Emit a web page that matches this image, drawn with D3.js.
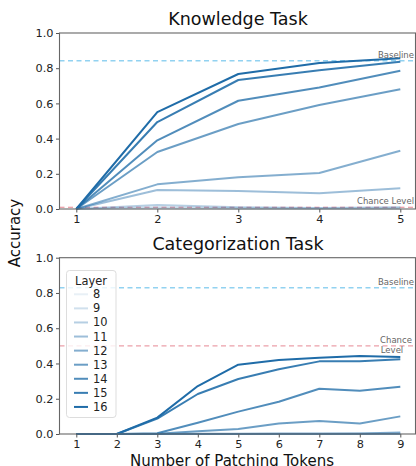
<!DOCTYPE html>
<html><head><meta charset="utf-8">
<script src="https://cdn.jsdelivr.net/npm/d3@7"></script>
<style>body{margin:0;background:#fff}svg{display:block}text{font-family:"DejaVu Sans",sans-serif}</style>
</head><body>
<svg id="c" width="416" height="466"></svg>
<script>
const layers = [8, 9, 10, 11, 12, 13, 14, 15, 16];
const knowledgeX = [1, 2, 3, 4, 5];
const knowledgeY = {
  8:  [0, 0.003, 0.0, 0.0, 0.0],
  9:  [0, 0.008, 0.004, 0.003, 0.004],
  10: [0, 0.023, 0.01, 0.005, 0.01],
  11: [0, 0.108, 0.102, 0.089, 0.118],
  12: [0, 0.14, 0.18, 0.205, 0.331],
  13: [0, 0.324, 0.483, 0.591, 0.68],
  14: [0, 0.39, 0.615, 0.69, 0.786],
  15: [0, 0.494, 0.733, 0.788, 0.837],
  16: [0, 0.55, 0.767, 0.83, 0.856]
};
const categX = [1, 2, 3, 4, 5, 6, 7, 8, 9];
const categY = {
  8:  [0, 0, 0, 0, 0, 0, 0, 0, 0],
  9:  [0, 0, 0, 0, 0, 0, 0, 0, 0],
  10: [0, 0, 0, 0, 0, 0, 0, 0, 0],
  11: [0, 0, 0, 0, 0, 0, 0, 0.001, 0.002],
  12: [0, 0, 0, 0.001, 0.002, 0.003, 0.003, 0.003, 0.008],
  13: [0, 0, 0.002, 0.015, 0.028, 0.06, 0.074, 0.06, 0.1],
  14: [0, 0, 0.004, 0.064, 0.127, 0.183, 0.257, 0.246, 0.268],
  15: [0, 0, 0.087, 0.227, 0.312, 0.367, 0.412, 0.413, 0.424],
  16: [0, 0, 0.093, 0.272, 0.393, 0.42, 0.433, 0.442, 0.437]
};
const yTicks = [0, 0.2, 0.4, 0.6, 0.8, 1.0];
const knowledgeBaseline = 0.843, knowledgeChance = 0.01;
const categBaseline = 0.83, categChance = 0.5;

const svg = d3.select("#c");
const lineColor = "#1f6ca8";
const opac = d3.scaleLinear().domain([8, 16]).range([0.1, 1]);

function panel(cfg) {
  const x = d3.scaleLinear().domain(cfg.xdom).range([76.3, 400.3]);
  const y = d3.scaleLinear().domain([0, 1]).range([cfg.bottom, cfg.top]);
  const g = svg.append("g");
  g.append("text").attr("x", 238).attr("y", cfg.top - 8).attr("text-anchor", "middle")
    .attr("font-size", 17.5).attr("fill", "#111").text(cfg.title);
  const left = 59.5, right = 415.5;
  g.append("line").attr("x1", left).attr("x2", right).attr("y1", y(cfg.baseline)).attr("y2", y(cfg.baseline))
    .attr("stroke", "#87cef0").attr("stroke-width", 1.5).attr("stroke-dasharray", "5,3.5").attr("opacity", 0.9);
  g.append("line").attr("x1", left).attr("x2", right).attr("y1", y(cfg.chance)).attr("y2", y(cfg.chance))
    .attr("stroke", "#e57a85").attr("stroke-width", 1.2).attr("stroke-dasharray", "5,3.5").attr("opacity", cfg.chanceOp);
  const line = d3.line().x((d, i) => x(cfg.xs[i])).y(d => y(d));
  layers.forEach(L => {
    g.append("path").datum(cfg.data[L]).attr("d", line).attr("fill", "none")
      .attr("stroke", lineColor).attr("stroke-opacity", opac(L)).attr("stroke-width", 2)
      .attr("stroke-linejoin", "round");
  });
  g.append("text").attr("x", 414).attr("y", y(cfg.baseline) - 3).attr("text-anchor", "end")
    .attr("font-size", 8.5).attr("fill", "#666").text("Baseline");
  cfg.chanceLabel(g, y);
  const ax = g.append("g").attr("transform", `translate(0,${cfg.bottom})`)
    .call(d3.axisBottom(x).tickValues(cfg.xs).tickFormat(d3.format("d")).tickSize(3.5).tickPadding(2.5));
  const ay = g.append("g").attr("transform", `translate(${left},0)`)
    .call(d3.axisLeft(y).tickValues(yTicks).tickFormat(d3.format(".1f")).tickSize(3.5).tickPadding(2.5));
  [ax, ay].forEach(a => {
    a.select(".domain").remove();
    a.selectAll("line").attr("stroke", "#555");
    a.selectAll("text").attr("font-size", 11.3).attr("fill", "#222").attr("font-family", "DejaVu Sans");
  });
  g.append("rect").attr("x", left).attr("y", cfg.top).attr("width", right - left).attr("height", cfg.bottom - cfg.top)
    .attr("fill", "none").attr("stroke", "#666").attr("stroke-width", 1.1);
  return {x, y, g};
}

panel({
  title: "Knowledge Task", xdom: [1, 5], xs: knowledgeX, data: knowledgeY,
  top: 33, bottom: 209, baseline: knowledgeBaseline, chance: knowledgeChance, chanceOp: 0.9,
  chanceLabel: (g, y) => g.append("text").attr("x", 414).attr("y", y(knowledgeChance) - 3.5)
    .attr("text-anchor", "end").attr("font-size", 8.5).attr("fill", "#666").text("Chance Level")
});
panel({
  title: "Categorization Task", xdom: [1, 9], xs: categX, data: categY,
  top: 257.7, bottom: 434, baseline: categBaseline, chance: categChance, chanceOp: 0.7,
  chanceLabel: (g, y) => {
    g.append("text").attr("x", 396).attr("y", y(categChance) - 3).attr("text-anchor", "middle")
      .attr("font-size", 8.5).attr("fill", "#666").text("Chance");
    g.append("text").attr("x", 392).attr("y", y(categChance) + 7).attr("text-anchor", "middle")
      .attr("font-size", 8.5).attr("fill", "#666").text("Level");
  }
});

const lg = svg.append("g");
lg.append("rect").attr("x", 66.5).attr("y", 270.5).attr("width", 49.5).attr("height", 147).attr("rx", 3)
  .attr("fill", "#fff").attr("fill-opacity", 0.8).attr("stroke", "#ddd").attr("stroke-width", 1);
lg.append("text").attr("x", 91).attr("y", 284.5).attr("text-anchor", "middle").attr("font-size", 11.4).attr("fill", "#222").text("Layer");
layers.forEach((L, i) => {
  const yy = 294.3 + i * 14.08;
  lg.append("line").attr("x1", 74).attr("x2", 88).attr("y1", yy).attr("y2", yy)
    .attr("stroke", lineColor).attr("stroke-opacity", opac(L)).attr("stroke-width", 2);
  lg.append("text").attr("x", 93).attr("y", yy + 4).attr("font-size", 11.4).attr("fill", "#222").text(L);
});

svg.append("text").attr("transform", "translate(20,233) rotate(-90)").attr("text-anchor", "middle")
  .attr("font-size", 15).attr("fill", "#111").text("Accuracy");
svg.append("text").attr("x", 232).attr("y", 466).attr("text-anchor", "middle")
  .attr("font-size", 15).attr("fill", "#111").text("Number of Patching Tokens");
</script>
</body></html>
